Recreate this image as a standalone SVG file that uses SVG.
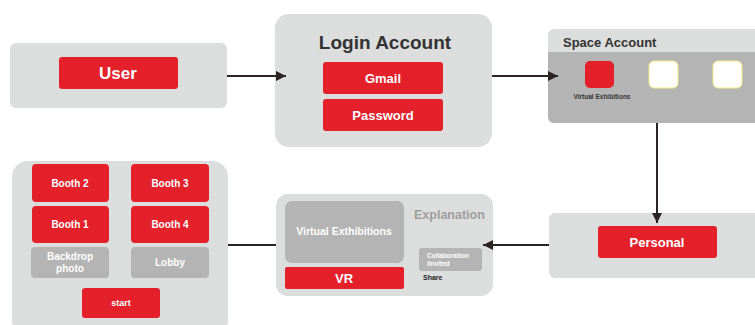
<svg xmlns="http://www.w3.org/2000/svg" width="755" height="325" viewBox="0 0 755 325">
<defs>
<marker id="ah" viewBox="0 0 10 10" refX="10" refY="5" markerWidth="11" markerHeight="10" markerUnits="userSpaceOnUse" orient="auto">
<path d="M0,0 L10,5 L0,10 Z" fill="#2b2424"/>
</marker>
<style>
.panel{fill:#dcdddd}
.red{fill:#e4202b}
.gray{fill:#b4b4b4}
text{font-family:"Liberation Sans",Arial,sans-serif;font-weight:bold}
.w{fill:#ffffff;text-anchor:middle}
.line{stroke:#2b2424;stroke-width:2;fill:none}
</style>
</defs>
<rect width="755" height="325" fill="#ffffff"/>
<g id="user">
<rect class="panel" x="10" y="43" width="217" height="65" rx="6"/>
<rect class="red" x="59" y="57" width="119" height="32" rx="3"/>
<text class="w" x="118" y="79" font-size="17">User</text>
</g>
<g id="login">
<rect class="panel" x="275" y="14" width="217" height="133" rx="14"/>
<text x="385" y="49" font-size="19" fill="#333333" text-anchor="middle">Login Account</text>
<rect class="red" x="323" y="62" width="120" height="32" rx="3"/>
<text class="w" x="383" y="83" font-size="13">Gmail</text>
<rect class="red" x="323" y="99" width="120" height="32" rx="3"/>
<text class="w" x="383" y="120" font-size="13">Password</text>
</g>
<g id="space">
<rect class="panel" x="548" y="29" width="220" height="94" rx="6"/>
<path class="gray" d="M548,52 H755 V123 H554 A6,6 0 0 1 548,117 Z"/>
<text x="563" y="47" font-size="13" fill="#333333">Space Account</text>
<rect class="red" x="585" y="61" width="29" height="27" rx="5"/>
<rect x="649" y="61" width="29" height="27" rx="5" fill="#ffffff" stroke="#f2ec80" stroke-width="1"/>
<rect x="713" y="61" width="29" height="27" rx="5" fill="#ffffff" stroke="#f2ec80" stroke-width="1"/>
<text x="602" y="99" font-size="6.5" fill="#333333" text-anchor="middle">Virtual Exhibitions</text>
</g>
<g id="personal">
<rect class="panel" x="549" y="213" width="220" height="65" rx="6"/>
<rect class="red" x="598" y="226" width="119" height="32" rx="3"/>
<text class="w" x="657" y="247" font-size="13">Personal</text>
</g>
<g id="explanation">
<rect class="panel" x="276" y="194" width="217" height="102" rx="12"/>
<rect class="gray" x="285" y="201" width="119" height="62" rx="7"/>
<text class="w" x="344" y="235" font-size="10.5">Virtual Exthibitions</text>
<rect class="red" x="285" y="267" width="119" height="22" rx="2"/>
<text class="w" x="344" y="283" font-size="13">VR</text>
<text x="414" y="219" font-size="12.5" fill="#9e9e9e">Explanation</text>
<rect class="gray" x="419" y="248" width="63" height="23" rx="3"/>
<text x="427" y="258" font-size="6.5" fill="#ffffff">Collaboration</text>
<text x="427" y="266" font-size="6.5" fill="#ffffff">/invited</text>
<text x="423" y="280" font-size="7" fill="#222222">Share</text>
</g>
<g id="booths">
<rect class="panel" x="12" y="161" width="216" height="175" rx="16"/>
<rect class="red" x="32" y="164" width="77" height="38" rx="4"/>
<text class="w" x="70" y="187" font-size="10">Booth 2</text>
<rect class="red" x="131" y="164" width="78" height="38" rx="4"/>
<text class="w" x="170" y="187" font-size="10">Booth 3</text>
<rect class="red" x="32" y="206" width="77" height="37" rx="4"/>
<text class="w" x="70" y="228" font-size="10">Booth 1</text>
<rect class="red" x="131" y="206" width="78" height="37" rx="4"/>
<text class="w" x="170" y="228" font-size="10">Booth 4</text>
<rect class="gray" x="31" y="247" width="78" height="31" rx="4"/>
<text class="w" x="70" y="260" font-size="10">Backdrop</text>
<text class="w" x="70" y="272" font-size="10">photo</text>
<rect class="gray" x="131" y="247" width="78" height="31" rx="4"/>
<text class="w" x="170" y="266" font-size="10">Lobby</text>
<rect class="red" x="82" y="288" width="78" height="30" rx="3"/>
<text class="w" x="121" y="306" font-size="9">start</text>
</g>
<g id="connectors">
<line class="line" x1="227" y1="76" x2="286" y2="76" marker-end="url(#ah)"/>
<line class="line" x1="492" y1="76" x2="558" y2="76" marker-end="url(#ah)"/>
<line class="line" x1="657" y1="123" x2="657" y2="223" marker-end="url(#ah)"/>
<line class="line" x1="549" y1="245" x2="483" y2="245" marker-end="url(#ah)"/>
<line class="line" x1="228" y1="245" x2="276" y2="245"/>
</g>
</svg>
